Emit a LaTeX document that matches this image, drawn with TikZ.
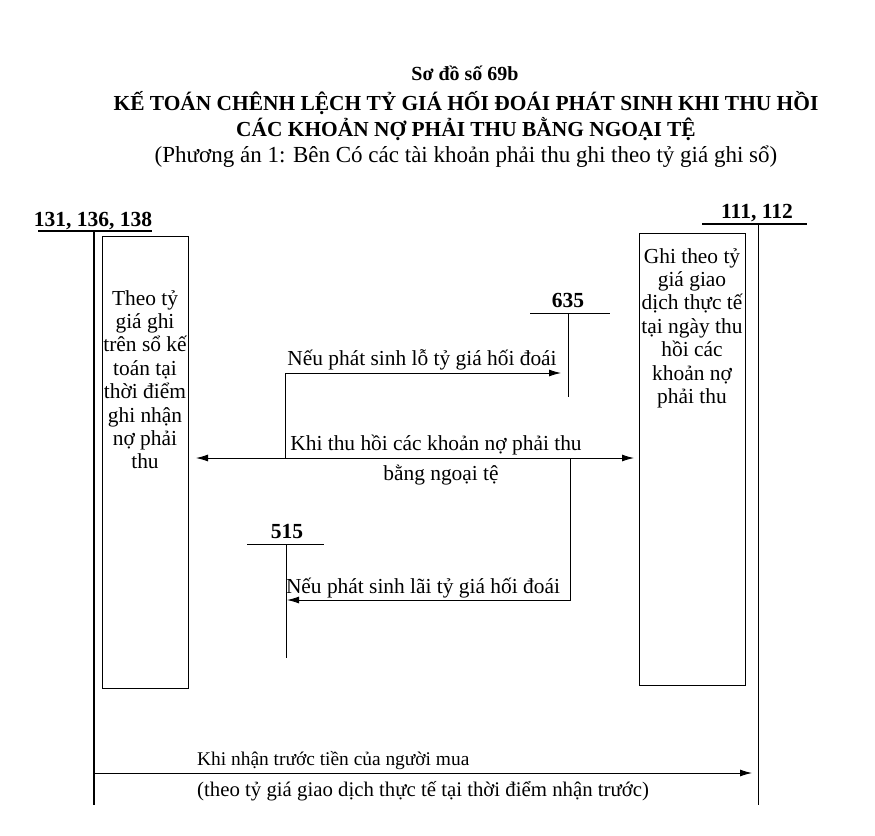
\documentclass[tikz,border=0pt]{standalone}
\usepackage{fontspec}
\setmainfont{Liberation Serif}
\usetikzlibrary{arrows.meta}
\begin{document}
\begin{tikzpicture}[x=1pt, y=-1pt, >={Latex[length=12pt,width=7pt]},
  every node/.style={inner sep=0pt},
  txt/.style={font=\fontsize{21.4}{23.4}\selectfont},
  head/.style={font=\fontsize{21.4}{26}\selectfont\bfseries, anchor=base},
  acct/.style={font=\fontsize{21.5}{25}\selectfont\bfseries, anchor=base},
  tline/.style={line width=1.4pt},
  vline/.style={line width=0.9pt},
  box/.style={draw, line width=0.9pt, minimum height=452pt}]
\useasboundingbox (0,0) rectangle (875,835);
\node[font=\fontsize{20}{26}\selectfont\bfseries, anchor=base] (title) at (465,80) {Sơ đồ số 69b};
\node[head] (head1) at (466,110) {KẾ TOÁN CHÊNH LỆCH TỶ GIÁ HỐI ĐOÁI PHÁT SINH KHI THU HỒI};
\node[head] (head2) at (466,136) {CÁC KHOẢN NỢ PHẢI THU BẰNG NGOẠI TỆ};
\node[font=\fontsize{23}{26}\selectfont, anchor=base] (sub) at (466,162) {(Phương án 1: Bên Có các tài khoản phải thu ghi theo tỷ giá ghi sổ)};
\node[acct] (tk131) at (93,226) {131, 136, 138};
\coordinate (tk131l) at (38,231);
\coordinate (tk131r) at (152,231);
\coordinate (tk131t) at (94,231);
\coordinate (tk131b) at (94,805);
\draw[tline] (tk131l) -- (tk131r);
\draw[tline] (tk131t) -- (tk131b);
\node[acct] (tk111) at (757,218) {111, 112};
\coordinate (tk111l) at (702,224);
\coordinate (tk111r) at (807,224);
\coordinate (tk111t) at (758,224);
\coordinate (tk111b) at (758,805);
\draw[tline] (tk111l) -- (tk111r);
\draw[vline] (tk111t) -- (tk111b);
\node[box, minimum width=86pt] (lbox) at (145,462) {};
\node[txt, align=center, anchor=north] (ltext) at (145,290) {Theo tỷ\\giá ghi\\trên sổ kế\\toán tại\\thời điểm\\ghi nhận\\nợ phải\\thu};
\node[box, minimum width=106pt] (rbox) at (692,459) {};
\node[txt, align=center, anchor=north] (rtext) at (692,248) {Ghi theo tỷ\\giá giao\\dịch thực tế\\tại ngày thu\\hồi các\\khoản nợ\\phải thu};
\node[acct] (tk635) at (568,307) {635};
\coordinate (tk635l) at (530,313);
\coordinate (tk635r) at (610,313);
\coordinate (tk635t) at (568,313);
\coordinate (tk635b) at (568,397);
\draw[vline] (tk635l) -- (tk635r);
\draw[vline] (tk635t) -- (tk635b);
\node[acct] (tk515) at (287,538) {515};
\coordinate (tk515l) at (247,544);
\coordinate (tk515r) at (324,544);
\coordinate (tk515t) at (286,544);
\coordinate (tk515b) at (286,658);
\draw[vline] (tk515l) -- (tk515r);
\draw[vline] (tk515t) -- (tk515b);
\coordinate (mainl) at (196,458);
\coordinate (mainr) at (634,458);
\draw[vline, <->] (mainl) -- (mainr);
\node[txt, anchor=base] (maintop) at (436,450) {Khi thu hồi các khoản nợ phải thu};
\node[txt, anchor=base] (mainbot) at (441,480) {bằng ngoại tệ};
\coordinate (losss) at (285,458);
\coordinate (losse) at (561,373);
\draw[vline, ->] (losss) |- (losse);
\node[txt, anchor=base] (losstxt) at (422,365) {Nếu phát sinh lỗ tỷ giá hối đoái};
\coordinate (gains) at (570,458);
\coordinate (gaine) at (287,600);
\draw[vline, ->] (gains) |- (gaine);
\node[txt, anchor=base] (gaintxt) at (423,593) {Nếu phát sinh lãi tỷ giá hối đoái};
\coordinate (advl) at (94,773);
\coordinate (advr) at (752,773);
\draw[vline, ->] (advl) -- (advr);
\node[font=\fontsize{19.4}{22}\selectfont, anchor=base west] (advtop) at (197,765) {Khi nhận trước tiền của người mua};
\node[font=\fontsize{20.8}{22}\selectfont, anchor=base west] (advbot) at (197,796) {(theo tỷ giá giao dịch thực tế tại thời điểm nhận trước)};
\end{tikzpicture}
\end{document}
